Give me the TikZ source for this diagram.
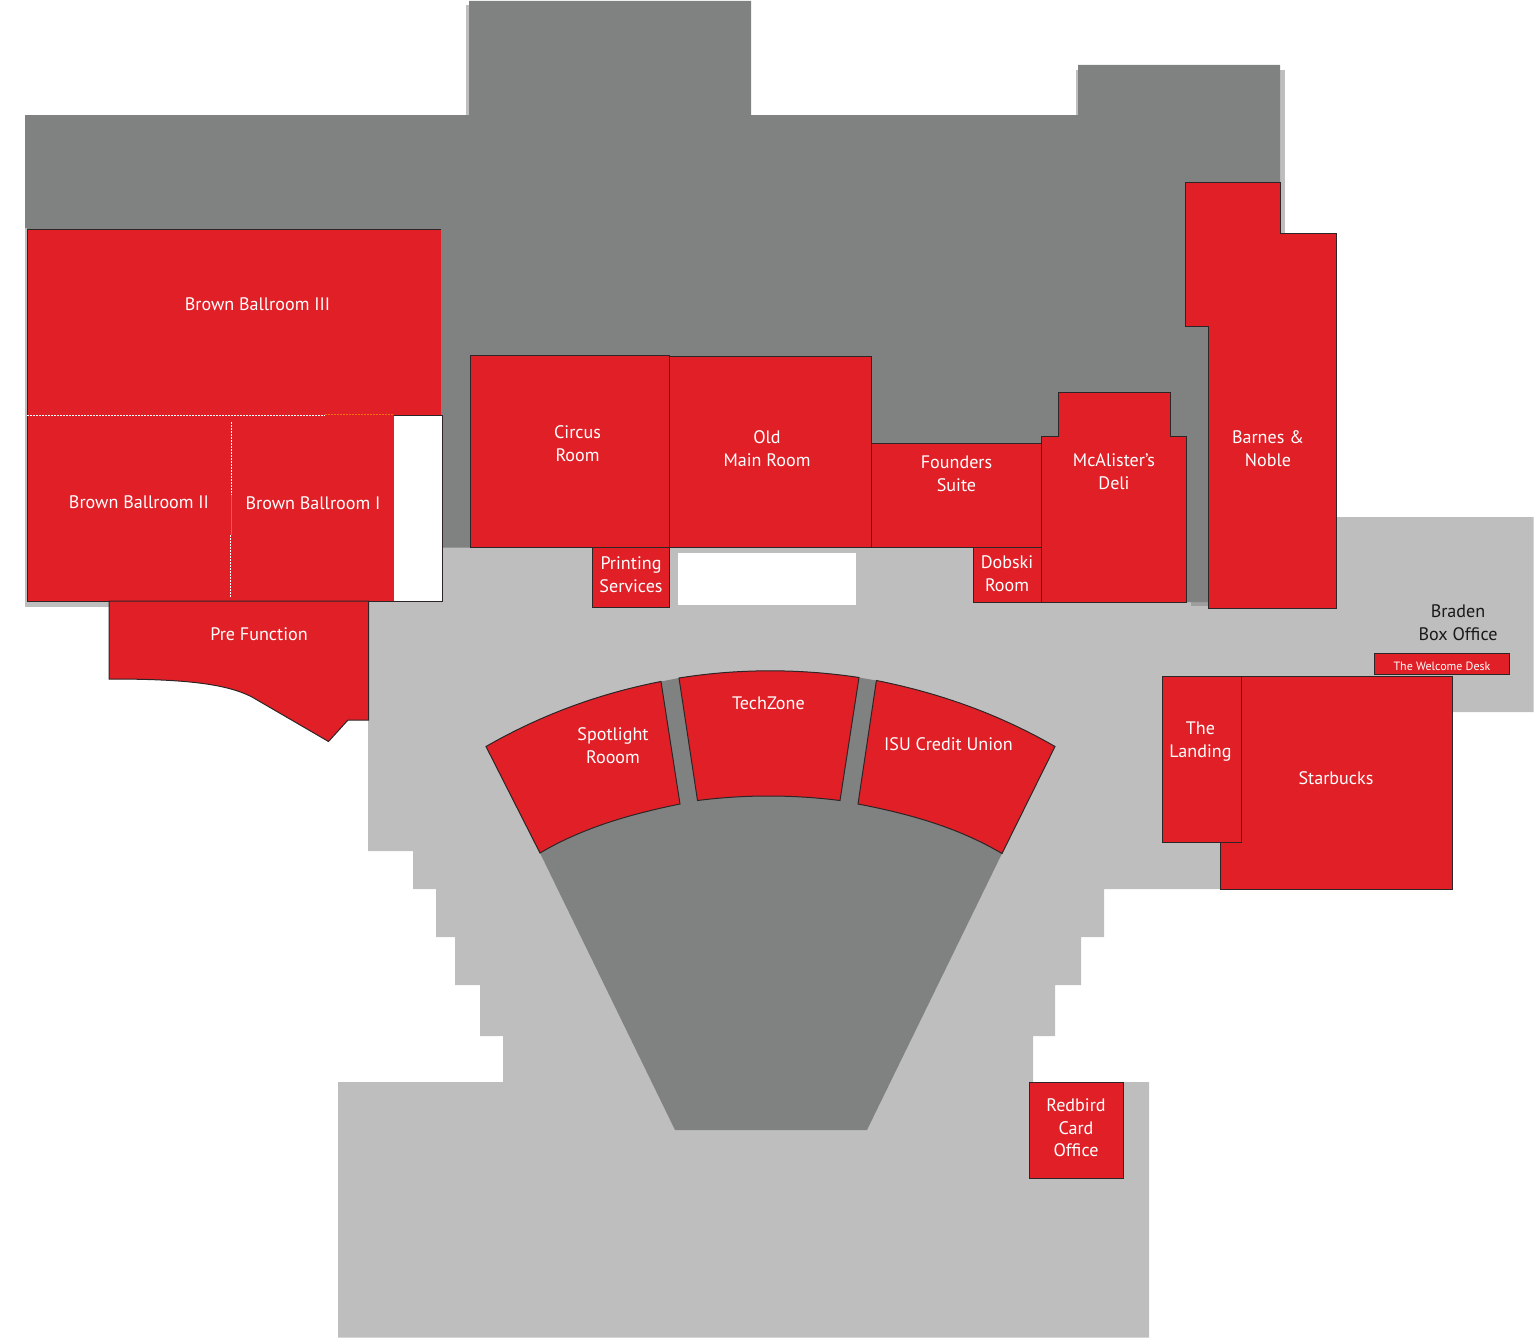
\documentclass[tikz,border=0pt]{standalone}
\usepackage{fontspec}
\setmainfont{PT Sans}
\definecolor{roomred}{HTML}{E01F26}
\definecolor{floorlight}{HTML}{BEBEBE}
\definecolor{floordark}{HTML}{808281}
\definecolor{edge}{HTML}{2E2626}
\tikzset{
  room/.style={fill=roomred,draw=edge,line width=1pt,line join=miter},
  lbl/.style={text=white,align=center,inner sep=0pt,yshift=-0.8pt,font=\fontsize{18.1}{22.7}\selectfont},
  lbldark/.style={lbl,text=black!90},
  partition/.style={draw=white,line width=0.8pt,dash pattern=on 2pt off 1pt}
}
\begin{document}
\begin{tikzpicture}[x=1pt,y=-1pt]
\useasboundingbox (0,0) rectangle (1534,1338);
% light floor
\fill[floorlight] (442,547) -- (1208,547) -- (1208,517) -- (1533.5,517) -- (1533.5,712) -- (1452,712) -- (1452,889) -- (1104,889) -- (1104,937) -- (1081,937) -- (1081,985) -- (1055,985) -- (1055,1036) -- (1033,1036) -- (1033,1082) -- (1149,1082) -- (1149,1337.5) -- (338,1337.5) -- (338,1082) -- (503,1082) -- (503,1036) -- (480,1036) -- (480,985) -- (455,985) -- (455,937) -- (436,937) -- (436,889) -- (413,889) -- (413,851) -- (368,851) -- (368,601) -- (442,601) -- cycle;
% soft shadows of the dark floor
\fill[floorlight] (25,228) rectangle (110,607);
\fill[floorlight] (1270,70) rectangle (1284.5,233);
\fill[floorlight] (1076,70) rectangle (1080,115);
\fill[floorlight] (466,5) rectangle (470,115);
\fill[black!38] (1191,600) rectangle (1208,606);
% dark floor
\fill[floordark] (25,115) -- (469,115) -- (469,1) -- (751,1) -- (751,115) -- (1078,115) -- (1078,65) -- (1280,65) -- (1280,240) -- (1208,240) -- (1208,602) -- (1041,602) -- (1041,547.5) -- (441,547.5) -- (441,300) -- (27,300) -- (27,228) -- (25,228) -- cycle;
% white voids
\fill[white,draw=edge,line width=0.8pt] (394,415) -- (442,415) -- (442,601) -- (394,601);
\fill[white] (678,553) rectangle (856,605);
% auditorium fan
\fill[floordark] (486,746.5) .. controls (540.7,715) and (599.2,693.5) .. (661,681.5)
  -- (679,678) .. controls (738,668.5) and (800,668.5) .. (859,677.5)
  -- (876.4,680.5) .. controls (941.8,693.5) and (1000.3,715) .. (1055,746.5)
  -- (1002,853.5) -- (867,1130) -- (675,1130) -- (540,853) -- cycle;
% ballrooms
\fill[roomred] (27,229) rectangle (441,415);
\draw[edge,line width=0.6pt] (27,229) -- (441,229);
\fill[roomred] (27,415) rectangle (394,601);
\draw[edge,line width=0.9pt] (27,229) -- (27,601) -- (442,601);
\draw[partition] (27,415) -- (325,415);
\draw[orange!80!roomred,line width=0.8pt,dash pattern=on 2pt off 1pt] (325,414.5) -- (393,414.5);
\draw[partition] (231.5,422) -- (231.5,495);
\draw[orange!70!roomred,line width=0.8pt] (231,495) -- (231,535);
\draw[partition] (230.5,535) -- (230.5,597);
\draw[room] (109,601) -- (368.5,601) -- (368.5,720) -- (348,720) -- (328.5,741.5) -- (252,697) .. controls (225,683) and (180,679) .. (109,679) -- cycle;
% central rooms
\draw[room] (470.5,355.5) rectangle (669,547.5);
\draw[room] (669,356.5) rectangle (871,547.5);
\draw[room] (871,443) rectangle (1041,547.5);
\draw[room] (1041,436) -- (1058.5,436) -- (1058.5,392.5) -- (1170,392.5) -- (1170,436) -- (1186,436) -- (1186,602) -- (1041,602) -- cycle;
\draw[room] (973.5,547.5) rectangle (1041,602);
\draw[room] (592.5,547.5) rectangle (669.5,607.5);
\draw[room] (1185.5,182) -- (1280,182) -- (1280,233.5) -- (1336.5,233.5) -- (1336.5,608.5) -- (1208.5,608.5) -- (1208.5,326) -- (1185.5,326) -- cycle;
% fan rooms
\draw[room] (486,746.5) .. controls (540.7,715) and (599.2,693.5) .. (661,681.5) -- (680,804) .. controls (631,814) and (583,827.5) .. (540,853) -- cycle;
\draw[room] (679,678) .. controls (738,668.5) and (800,668.5) .. (859,677.5) -- (840,800.5) .. controls (792,794.5) and (745,794.5) .. (697.5,800.5) -- cycle;
\draw[room] (876.4,680.5) .. controls (941.8,693.5) and (1000.3,715) .. (1055,746.5) -- (1002,853.5) .. controls (958,827.5) and (910,814) .. (858,804) -- cycle;
% east rooms
\draw[room] (1241.5,676) -- (1452,676) -- (1452,889) -- (1220.5,889) -- (1220.5,842) -- (1241.5,842) -- cycle;
\draw[room] (1162,676) rectangle (1241.5,842);
\draw[room] (1374.5,653.5) rectangle (1509.5,674.5);
\draw[room] (1029.5,1082.5) rectangle (1123.5,1178);
% labels
\node[lbl] (bb3) at (257.5,303.5) {Brown Ballroom III};
\node[lbl] (bb2) at (139,501.5) {Brown Ballroom II};
\node[lbl] (bb1) at (313,502.5) {Brown Ballroom I};
\node[lbl] (prefn) at (259,633) {Pre Function};
\node[lbl] (circus) at (577.5,443) {Circus\\Room};
\node[lbl] (oldmain) at (767,448) {Old\\Main Room};
\node[lbl] (founders) at (956.5,473) {Founders\\Suite};
\node[lbl] (mcal) at (1114,471) {McAlister’s\\Deli};
\node[lbl] (barnes) at (1268,448) {Barnes \&\\Noble};
\node[lbl] (printing) at (631,574) {Printing\\Services};
\node[lbl] (dobski) at (1007,573) {Dobski\\Room};
\node[lbldark] (braden) at (1458,622) {Braden\\Box Office};
\node[lbl,font=\fontsize{12}{14}\selectfont] (welcome) at (1442,665.5) {The Welcome Desk};
\node[lbl] (landing) at (1200.5,741) {The\\Landing};
\node[lbl] (starbucks) at (1336,777) {Starbucks};
\node[lbl] (spot) at (613,745) {Spotlight\\Rooom};
\node[lbl] (tech) at (768.5,702) {TechZone};
\node[lbl] (isu) at (948.5,743.5) {ISU Credit Union};
\node[lbl] (redbird) at (1076,1127) {Redbird\\Card\\Office};
\end{tikzpicture}
\end{document}
